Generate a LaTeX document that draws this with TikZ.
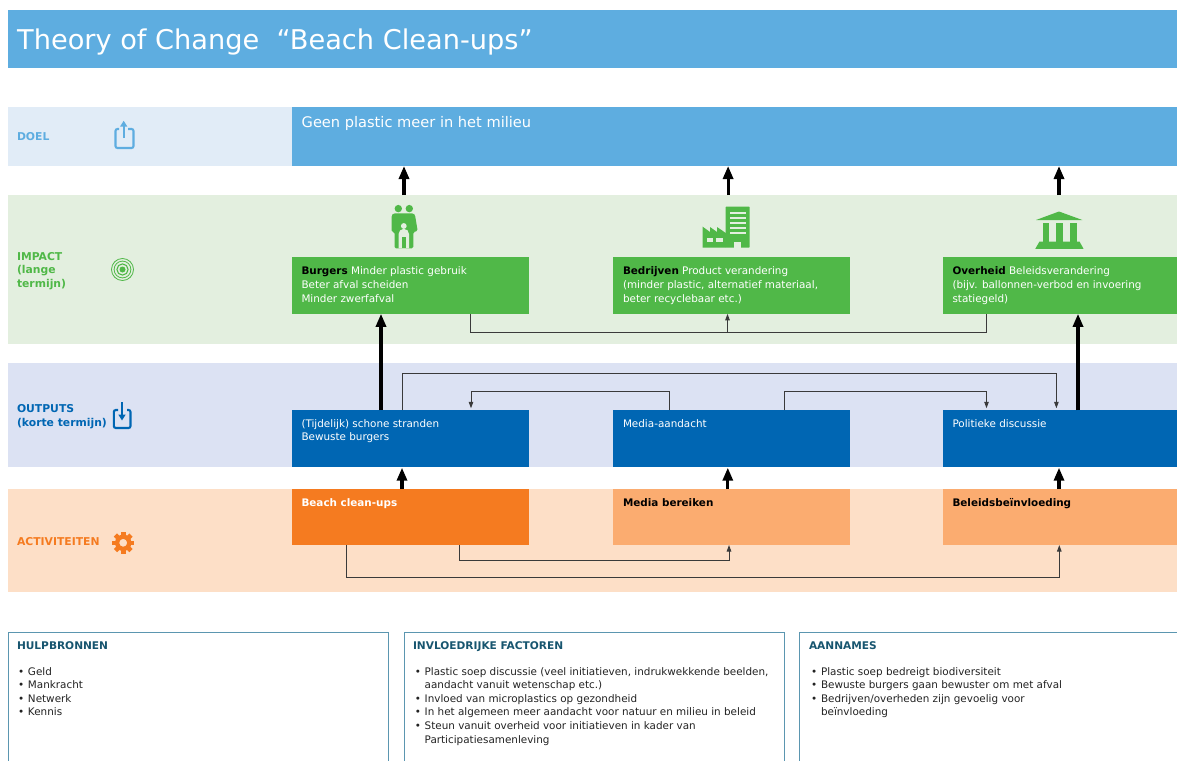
\documentclass[tikz,border=0pt]{standalone}
\usepackage{fontspec}
\setmainfont{DejaVu Sans}
\usetikzlibrary{arrows.meta}
\definecolor{cBlue}{HTML}{5EADE0}
\definecolor{cBlueBand}{HTML}{E1ECF7}
\definecolor{cGreen}{HTML}{50B848}
\definecolor{cGreenBand}{HTML}{E3EFDF}
\definecolor{cDark}{HTML}{0066B3}
\definecolor{cDarkBand}{HTML}{DCE2F3}
\definecolor{cOrange}{HTML}{F57B20}
\definecolor{cOrangeLt}{HTML}{FBAC70}
\definecolor{cOrangeBand}{HTML}{FDDFC7}
\definecolor{cFrame}{HTML}{5B96B0}
\definecolor{cHead}{HTML}{17556F}
\definecolor{cBody}{HTML}{222222}
\definecolor{cThin}{HTML}{3A3A3A}
\newcommand{\Ls}{\rule{0pt}{10pt}}
\newcommand{\Blt}[1]{\makebox[9.2pt][l]{\hspace*{-.6pt}\fontsize{10.4}{10.4}\selectfont •}#1}
\newcommand{\Bc}[1]{\hspace*{9.2pt}#1}
\tikzset{
  panel/.style={anchor=north west,inner sep=0pt,outer sep=0pt,draw=none,minimum width=#1},
  txt/.style={anchor=north west,inner sep=0pt,outer sep=0pt,align=left,font=\fontsize{10.4}{13.65}\selectfont},
  wtxt/.style={txt,text=white},
  lab/.style={txt,font=\fontsize{10.8}{13.9}\selectfont\bfseries,text=#1},
  head/.style={txt,font=\fontsize{10.6}{13.65}\selectfont\bfseries,text=cHead},
  list/.style={txt,text=cBody},
  thick arrow/.style={line width=3.1pt,-{Triangle[width=10pt,length=13pt]},black},
  thin arrow/.style={line width=1pt,-{Triangle[width=4.5pt,length=6.5pt]},cThin},
  thin line/.style={line width=1pt,cThin},
  frame/.style={line width=1.2pt,cFrame},
}
\begin{document}
\begin{tikzpicture}[x=1pt,y=-1pt]
\useasboundingbox (0,0) rectangle (1177,760);
% title
\node[panel=1169pt,minimum height=58pt,fill=cBlue] (title) at (8,10) {};
\node[anchor=north west,inner sep=0pt,text=white,font=\fontsize{27.2}{30}\selectfont] (titletext) at (17,25) {\rule{0pt}{24pt}Theory of Change\ \ “Beach Clean-ups”};
% bands
\node[panel=284pt,minimum height=59pt,fill=cBlueBand] (bandD) at (8,107) {};
\node[panel=885pt,minimum height=59pt,fill=cBlue] (doel) at (292,107) {};
\node[panel=1169pt,minimum height=149pt,fill=cGreenBand] (bandI) at (8,195) {};
\node[panel=1169pt,minimum height=103.7pt,fill=cDarkBand] (bandO) at (8,363.3) {};
\node[panel=1169pt,minimum height=103.3pt,fill=cOrangeBand] (bandA) at (8,489) {};
% boxes
\node[panel=237pt,minimum height=56.5pt,fill=cGreen] (burgers) at (292,257.3) {};
\node[panel=237pt,minimum height=56.5pt,fill=cGreen] (bedrijven) at (613.3,257.3) {};
\node[panel=234pt,minimum height=56.5pt,fill=cGreen] (overheid) at (943,257.3) {};
\node[panel=237pt,minimum height=56.7pt,fill=cDark] (stranden) at (292,410.3) {};
\node[panel=237pt,minimum height=56.7pt,fill=cDark] (mediaa) at (613.3,410.3) {};
\node[panel=234pt,minimum height=56.7pt,fill=cDark] (politiek) at (943,410.3) {};
\node[panel=237pt,minimum height=56pt,fill=cOrange] (beach) at (292,489) {};
\node[panel=237pt,minimum height=56pt,fill=cOrangeLt] (mediab) at (613.3,489) {};
\node[panel=234pt,minimum height=56pt,fill=cOrangeLt] (beleid) at (943,489) {};
% texts
\node[anchor=north west,inner sep=0pt,text=white,font=\fontsize{14.6}{16}\selectfont] (doeltext) at (301.5,115.3) {\rule{0pt}{12pt}Geen plastic meer in het milieu};
\node[lab=cBlue] (lD) at (17,130.7) {\Ls DOEL};
\node[lab=cGreen] (lI) at (17,250) {\Ls IMPACT\\(lange\\termijn)};
\node[lab=cDark] (lO) at (17,402.7) {\Ls OUTPUTS\\(korte termijn)};
\node[lab=cOrange] (lA) at (17,535) {\Ls ACTIVITEITEN};
\node[wtxt] (t1) at (301.5,264.7) {\Ls\textcolor{black}{\bfseries Burgers} Minder plastic gebruik\\Beter afval scheiden\\Minder zwerfafval};
\node[wtxt] (t2) at (623,264.7) {\Ls\textcolor{black}{\bfseries Bedrijven} Product verandering\\(minder plastic, alternatief materiaal,\\beter recyclebaar etc.)};
\node[wtxt] (t3) at (952.5,264.7) {\Ls\textcolor{black}{\bfseries Overheid} Beleidsverandering\\(bijv. ballonnen-verbod en invoering\\statiegeld)};
\node[wtxt] (t4) at (301.5,417.3) {\Ls(Tijdelijk) schone stranden\\Bewuste burgers};
\node[wtxt] (t5) at (623,417.3) {\Ls Media-aandacht};
\node[wtxt] (t6) at (952.5,417.3) {\Ls Politieke discussie};
\node[wtxt,font=\fontsize{10.4}{13.65}\selectfont\bfseries] (t7) at (301.5,496.7) {\Ls Beach clean-ups};
\node[txt,text=black,font=\fontsize{10.4}{13.65}\selectfont\bfseries] (t8) at (623,496.7) {\Ls Media bereiken};
\node[txt,text=black,font=\fontsize{10.4}{13.65}\selectfont\bfseries] (t9) at (952.5,496.7) {\Ls Beleidsbeïnvloeding};
% main arrows
\draw[thick arrow] ([xshift=-6.5pt]burgers.north |- bandI.north) -- ([xshift=-6.5pt]burgers.north |- doel.south);
\draw[thick arrow] ([xshift=-3.7pt]bedrijven.north |- bandI.north) -- ([xshift=-3.7pt]bedrijven.north |- doel.south);
\draw[thick arrow] ([xshift=-1pt]overheid.north |- bandI.north) -- ([xshift=-1pt]overheid.north |- doel.south);
\draw[thick arrow] ([xshift=-29.5pt]stranden.north) -- ([xshift=-29.5pt]burgers.south);
\draw[thick arrow] ([xshift=18pt]politiek.north) -- ([xshift=18pt]overheid.south);
\draw[thick arrow] ([xshift=-8.5pt]beach.north) -- ([xshift=-8.5pt,yshift=-.7pt]stranden.south);
\draw[thick arrow] ([xshift=-4pt]mediab.north) -- ([xshift=-4pt,yshift=-.7pt]mediaa.south);
\draw[thick arrow] ([xshift=-1pt]beleid.north) -- ([xshift=-1pt,yshift=-.7pt]politiek.south);
% thin connectors
\draw[thin line] ([xshift=59.5pt]burgers.south) |- ([yshift=-18.2pt,xshift=-74pt]overheid.south) -- ([xshift=-74pt]overheid.south);
\draw[thin arrow] ([xshift=-4.3pt,yshift=-18.2pt]bedrijven.south) -- ([xshift=-4.3pt]bedrijven.south);
\draw[thin arrow] ([xshift=-8.5pt]stranden.north) -- ++(0,-37.3) -| ([xshift=-3.6pt,yshift=2pt]politiek.north);
\draw[thin arrow] ([xshift=-62pt]mediaa.north) -- ++(0,-18.6) -| ([xshift=60.5pt,yshift=2pt]stranden.north);
\draw[thin arrow] ([xshift=52.5pt]mediaa.north) -- ++(0,-18.6) -| ([xshift=-73.5pt,yshift=2pt]politiek.north);
\draw[thin arrow] ([xshift=48.5pt]beach.south) -- ++(0,15.3) -| ([xshift=-2.8pt]mediab.south);
\draw[thin arrow] ([xshift=-64.5pt]beach.south) -- ++(0,32.7) -| ([xshift=-0.7pt]beleid.south);
% side icons
\begin{scope}[line width=2.1pt,cBlue]
\draw[rounded corners=2pt] (119,129) -- (115.5,129) -- (115.5,148) -- (133.5,148) -- (133.5,129) -- (128,129);
\draw[line width=2pt,-{Triangle[width=7pt,length=6pt]}] (123.7,138) -- (123.7,120.7);
\end{scope}
\begin{scope}[cGreen]
\draw[line width=.8pt] (122.5,269.5) circle[radius=11pt];
\draw[line width=.8pt] (122.5,269.5) circle[radius=8.4pt];
\draw[line width=1.1pt] (122.5,269.5) circle[radius=5.6pt];
\fill (122.5,269.5) circle[radius=3pt];
\end{scope}
\begin{scope}[line width=2.1pt,cDark]
\draw[rounded corners=2pt] (118,410) -- (113.8,410) -- (113.8,428) -- (130.5,428) -- (130.5,410) -- (127,410);
\draw[line width=2pt,-{Triangle[width=7pt,length=6pt]}] (122,402) -- (122,420.5);
\end{scope}
\begin{scope}[shift={(123.2,542.8)}]
\foreach \a in {0,45,...,315}{\fill[cOrange,rotate=\a] (-2.3,-11) rectangle (2.3,-6);}
\fill[cOrange,even odd rule] (0,0) circle[radius=8.2pt] (0,0) circle[radius=4pt];
\end{scope}
% family icon
\begin{scope}[cGreen]
\fill (398.3,208.6) circle[radius=3.7pt];
\fill (409.3,208.6) circle[radius=3.7pt];
\fill[rounded corners=1.5pt] (391.7,232) -- (391.7,215) -- (393.5,213.3) -- (413.5,213.3) -- (415,215) -- (417.7,231) -- (413.3,232) -- (413.3,248.3) -- (394.5,248.3) -- (394.5,232) -- cycle;
\fill[cGreenBand] (398.6,248.4) -- (398.6,234) arc[start angle=180,end angle=0,radius=5.2pt] -- (409,248.4) -- cycle;
\fill[cGreenBand] (403.8,226) circle[radius=2.9pt];
\fill (401.8,248.4) rectangle (405.8,236.5);
\end{scope}
% factory icon
\begin{scope}[cGreen]
\fill[rounded corners=.5pt] (725.7,206.7) rectangle (749.5,247.7);
\fill (702.7,247.7) -- (702.7,226.7) -- (710,232) -- (710,227) -- (717,232) -- (717,227) -- (725.8,233) -- (725.8,247.7) -- cycle;
\foreach \yy in {211.7,216.7,221.7,226.7,231.7}{\fill[cGreenBand] (730,\yy) rectangle (746,\yy+1.9);}
\fill[cGreenBand] (707.3,238.3) rectangle (713.3,241.7);
\fill[cGreenBand] (716,238.3) rectangle (722.7,241.7);
\fill[cGreenBand] (734.3,242.3) rectangle (741,247.8);
\end{scope}
% bank icon
\begin{scope}[cGreen]
\fill (1036,220) -- (1059,211.5) -- (1082.3,220) -- cycle;
\fill (1042.5,222.5) rectangle (1048.8,242);
\fill (1055.7,222.5) rectangle (1062.5,242);
\fill (1069.7,222.5) rectangle (1076.5,242);
\fill (1039.5,241.5) -- (1079.5,241.5) -- (1083.5,248.8) -- (1035.3,248.8) -- cycle;
\end{scope}
% lower frames
\draw[frame] (8.8,761) -- (8.8,632.5) -- (388.8,632.5) -- (388.8,761);
\draw[frame] (404.5,761) -- (404.5,632.5) -- (784.3,632.5) -- (784.3,761);
\draw[frame] (799.8,761) -- (799.8,632.5) -- (1178,632.5);
\node[head] (h1) at (17,639) {\Ls HULPBRONNEN};
\node[head] (h2) at (413,639) {\Ls INVLOEDRIJKE FACTOREN};
\node[head] (h3) at (809,639) {\Ls AANNAMES};
\node[list] (l1) at (18.8,665) {\Ls\Blt{Geld}\\\Blt{Mankracht}\\\Blt{Netwerk}\\\Blt{Kennis}};
\node[list] (l2) at (415.5,665) {\Ls\Blt{Plastic soep discussie (veel initiatieven, indrukwekkende beelden,}\\\Bc{aandacht vanuit wetenschap etc.)}\\\Blt{Invloed van microplastics op gezondheid}\\\Blt{In het algemeen meer aandacht voor natuur en milieu in beleid}\\\Blt{Steun vanuit overheid voor initiatieven in kader van}\\\Bc{Participatiesamenleving}};
\node[list] (l3) at (811.8,665) {\Ls\Blt{Plastic soep bedreigt biodiversiteit}\\\Blt{Bewuste burgers gaan bewuster om met afval}\\\Blt{Bedrijven/overheden zijn gevoelig voor}\\\Bc{beïnvloeding}};
\end{tikzpicture}
\end{document}
